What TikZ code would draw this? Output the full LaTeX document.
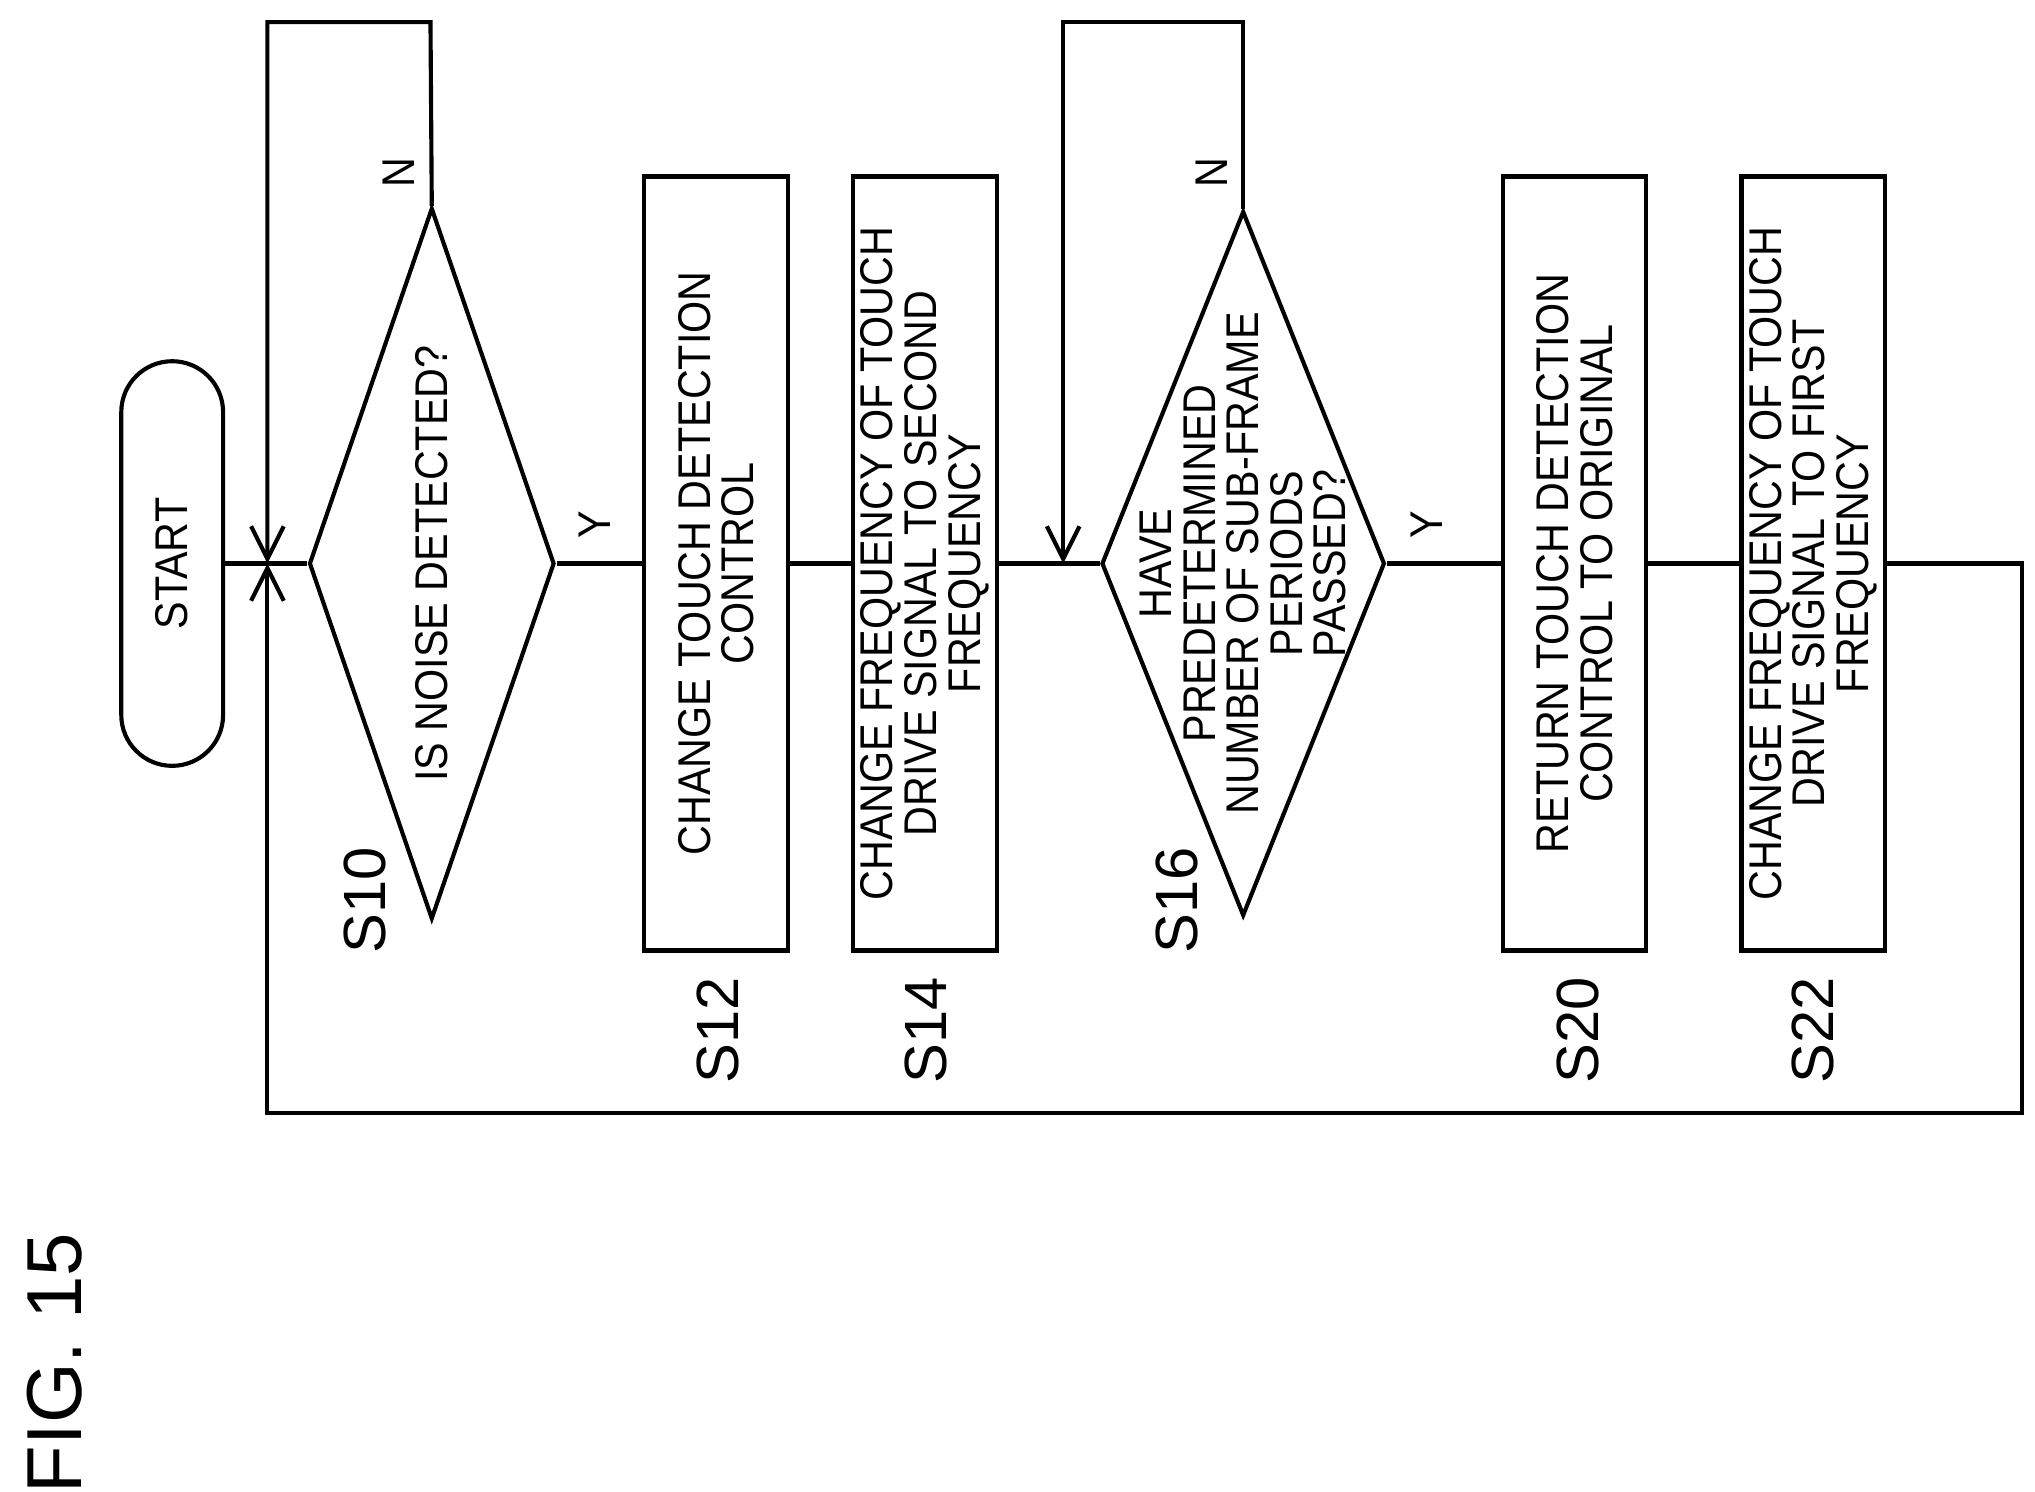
\documentclass[tikz,border=0pt]{standalone}
\usepackage{fontspec}
\setmainfont{Liberation Sans}
\newfontfamily\condfont[FakeStretch=0.9]{Liberation Sans}
\usetikzlibrary{arrows.meta,shapes.geometric}

\begin{document}
\begin{tikzpicture}[x=0.01cm,y=-0.01cm,>={Straight Barb[length=2.5mm,width=2.5mm]},line width=0.9pt,
  every node/.style={font=\condfont\fontsize{10}{9.5}\selectfont,align=center},
  stepbox/.style={draw,rotate=90,minimum width=5.93cm,minimum height=1.1cm,inner sep=0pt},
  decision/.style={draw,diamond,rotate=90,inner sep=0pt},
  steplabel/.style={rotate=90,font=\fontsize{13}{13}\selectfont}]

\useasboundingbox (0,0) rectangle (1560,1143);

% start
\node[draw,rounded corners=0.39cm,rotate=90,minimum width=3.1cm,minimum height=0.78cm] (start) at (132,432) {START};

% decisions
\node[decision,minimum width=5.45cm,minimum height=1.88cm] (s10) at (331,432) {};
\node[rotate=90] at (s10) {IS NOISE DETECTED?};
\node[decision,minimum width=5.4cm,minimum height=2.17cm] (s16) at (953,432) {};
\node[rotate=90] at (s16) {HAVE\\PREDETERMINED\\NUMBER OF SUB-FRAME\\PERIODS\\PASSED?};

% process steps
\node[stepbox] (s12) at (549,432) {CHANGE TOUCH DETECTION\\CONTROL};
\node[stepbox] (s14) at (709,432) {CHANGE FREQUENCY OF TOUCH\\DRIVE SIGNAL TO SECOND\\FREQUENCY};
\node[stepbox] (s20) at (1207,432) {RETURN TOUCH DETECTION\\CONTROL TO ORIGINAL};
\node[stepbox] (s22) at (1390,432) {CHANGE FREQUENCY OF TOUCH\\DRIVE SIGNAL TO FIRST\\FREQUENCY};

% step labels
\node[steplabel] at (280,690) {S10};
\node[steplabel] at (550,790) {S12};
\node[steplabel] at (710,790) {S14};
\node[steplabel] at (902,690) {S16};
\node[steplabel] at (1210,790) {S20};
\node[steplabel] at (1390,790) {S22};
\node[rotate=90,font=\fontsize{17}{17}\selectfont] at (42,1045) {FIG. 15};

% connectors
\coordinate (m1) at (205,432);
\coordinate (m2) at (815,432);
\draw (start.south) -- (s10.north);
\draw (s10.south) -- (s12.north);
\node[rotate=90] at (456,402) {Y};
\draw (s12.south) -- (s14.north);
\draw (s14.south) -- (s16.north);
\draw (s16.south) -- (s20.north);
\node[rotate=90] at (1094,402) {Y};
\draw (s20.south) -- (s22.north);
\draw[->] (s10.east) -- (330,17) -- (205,17) -- (m1);
\node[rotate=90] at (306,132) {N};
\draw[->] (s16.east) -- (953,17) -- (815,17) -- (m2);
\node[rotate=90] at (929,132) {N};
\draw[->] (s22.south) -- (1550,432) -- (1550,853) -- (205,853) -- (m1);

\end{tikzpicture}
\end{document}
